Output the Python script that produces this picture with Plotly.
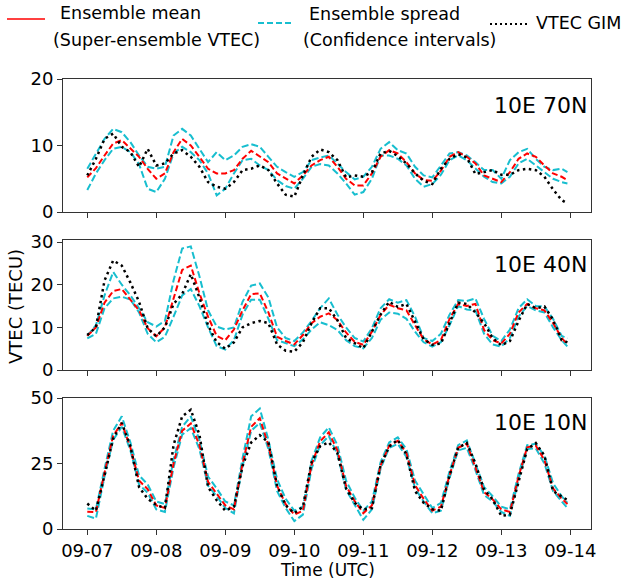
import plotly.graph_objects as go
from plotly.subplots import make_subplots
from datetime import datetime, timedelta

# ---------------- data ----------------
START = datetime(2017, 9, 7)
HOURS = list(range(0, 168, 3)) + [167]
TIMES = [START + timedelta(hours=h) for h in HOURS]

PANEL_LABELS = ["10E 70N", "10E 40N", "10E 10N"]
Y_TICKS = [[0, 10, 20], [0, 10, 20, 30], [0, 25, 50]]
Y_RANGES = [[0, 20], [0, 30.5], [0, 50]]
X_TICK_DATES = ["09-07", "09-08", "09-09", "09-10", "09-11", "09-12", "09-13", "09-14"]

# 10E 70N
P1_MEAN = [5.2, 6.6, 8.5, 10.3, 10.8, 9.5, 8.3, 6.5, 5.0, 5.8, 9.0, 11.0, 10.0, 8.3, 6.5, 5.8, 5.8, 6.3, 8.0, 9.2,
           8.3, 7.5, 5.8, 5.0, 4.3, 5.5, 7.0, 7.8, 8.3, 6.8, 5.0, 4.0, 4.0, 5.8, 8.3, 9.3, 8.8, 7.5, 5.8, 4.8,
           4.7, 6.2, 8.3, 9.0, 8.3, 7.3, 5.5, 5.0, 4.5, 6.0, 8.0, 8.8, 8.3, 7.0, 5.8, 5.3, 4.8]
P1_UPPER = [6.5, 8.7, 11.0, 12.5, 12.0, 10.5, 8.5, 6.8, 6.5, 6.8, 11.5, 12.5, 11.5, 9.5, 7.5, 9.0, 7.8, 8.5, 9.8, 10.2,
            9.8, 8.3, 6.8, 6.0, 5.3, 6.0, 7.8, 8.2, 8.5, 7.3, 6.0, 4.9, 5.3, 6.8, 9.5, 10.5, 9.3, 8.8, 6.8, 5.5,
            5.2, 7.0, 8.8, 9.0, 8.5, 7.5, 6.3, 6.3, 5.0, 7.8, 9.0, 9.5, 8.0, 6.8, 6.3, 6.5, 6.0]
P1_LOWER = [3.3, 5.8, 7.8, 9.5, 9.8, 9.0, 7.2, 3.5, 3.0, 5.0, 8.8, 9.8, 9.0, 7.8, 5.8, 2.5, 3.5, 5.8, 7.8, 8.0,
            7.0, 6.3, 4.8, 3.9, 3.5, 5.0, 6.8, 7.2, 7.0, 5.8, 4.3, 2.6, 3.0, 5.0, 8.5, 8.5, 8.0, 7.0, 5.0, 3.8,
            4.2, 5.6, 7.8, 8.5, 7.8, 6.5, 5.3, 4.5, 4.3, 5.3, 7.3, 8.0, 7.0, 6.0, 5.0, 4.5, 4.3]
P1_GIM = [5.5, 8.0, 11.0, 11.8, 9.8, 9.0, 6.8, 9.5, 7.0, 7.3, 8.8, 9.3, 8.3, 6.8, 4.5, 3.8, 3.5, 4.5, 6.3, 6.5,
          7.0, 6.3, 4.3, 2.6, 2.3, 5.5, 8.3, 9.4, 9.0, 7.8, 5.2, 5.5, 5.3, 6.0, 8.8, 9.2, 8.4, 7.3, 5.8, 4.7,
          4.2, 6.5, 8.0, 8.7, 8.2, 5.7, 6.0, 6.3, 5.6, 5.6, 6.3, 6.5, 6.3, 5.3, 3.4, 1.8, 1.3]

# 10E 40N
P2_MEAN = [8.0, 10.0, 15.8, 18.5, 19.0, 16.6, 14.0, 9.8, 7.9, 10.0, 16.5, 23.5, 24.5, 18.0, 12.5, 8.0, 7.0, 9.5, 14.0, 17.8,
           18.0, 13.5, 7.8, 6.8, 6.0, 8.2, 11.0, 12.5, 13.3, 11.7, 8.8, 6.6, 5.9, 9.0, 12.9, 15.3, 14.5, 14.0, 10.5, 7.2,
           6.0, 7.0, 12.0, 15.5, 15.0, 15.5, 9.4, 7.0, 6.2, 8.5, 13.5, 15.5, 14.5, 14.0, 11.0, 7.5, 6.0]
P2_UPPER = [8.0, 10.5, 17.5, 23.0, 20.0, 17.5, 14.5, 11.2, 10.2, 11.5, 21.0, 28.5, 29.0, 22.0, 14.0, 10.2, 9.5, 10.0, 16.0, 19.8,
            20.3, 17.0, 10.0, 7.5, 6.8, 8.8, 11.5, 14.5, 16.8, 13.0, 10.0, 7.5, 6.7, 9.8, 14.5, 16.6, 15.8, 16.4, 12.5, 7.5,
            6.8, 8.5, 13.0, 16.4, 16.2, 16.8, 12.0, 8.0, 6.8, 9.5, 14.5, 16.6, 15.0, 14.9, 12.0, 8.0, 7.4]
P2_LOWER = [7.4, 8.5, 14.5, 16.8, 17.2, 16.5, 13.5, 8.5, 6.5, 7.8, 12.5, 17.5, 19.0, 15.0, 10.0, 5.6, 4.8, 7.0, 13.0, 16.5,
            16.5, 12.0, 7.0, 6.3, 5.6, 7.2, 9.5, 11.2, 10.5, 9.4, 7.0, 5.6, 5.1, 7.5, 11.8, 13.5, 13.2, 12.0, 9.0, 6.5,
            5.5, 6.5, 10.5, 15.0, 14.2, 14.0, 8.5, 6.0, 5.5, 7.5, 12.5, 15.0, 14.0, 13.5, 10.0, 7.0, 5.5]
P2_GIM = [8.2, 10.0, 21.0, 25.7, 24.5, 20.5, 16.0, 9.8, 7.9, 10.0, 15.5, 17.8, 22.5, 17.0, 10.5, 6.5, 5.0, 6.5, 10.0, 11.0,
          11.5, 11.0, 6.0, 4.5, 4.3, 6.5, 11.0, 14.5, 14.5, 11.7, 7.5, 6.3, 5.1, 9.0, 13.0, 16.0, 14.8, 15.5, 11.5, 7.2,
          5.9, 6.2, 11.0, 15.8, 15.5, 13.5, 11.0, 7.5, 5.8, 6.8, 11.5, 15.5, 14.5, 14.9, 11.8, 7.0, 6.5]

# 10E 10N
P3_MEAN = [6.6, 6.5, 21.5, 35.6, 40.5, 31.0, 18.5, 15.2, 9.0, 8.0, 25.0, 37.5, 40.3, 32.0, 18.0, 13.5, 9.0, 7.5, 25.0, 39.0,
           42.3, 32.0, 16.5, 9.5, 5.5, 7.0, 24.5, 33.5, 36.9, 30.0, 16.5, 10.7, 6.0, 9.0, 24.2, 31.8, 33.7, 29.0, 16.7, 11.5,
           7.0, 8.5, 20.5, 31.0, 32.6, 23.5, 14.1, 11.3, 7.5, 6.5, 20.0, 31.2, 31.8, 26.3, 15.5, 11.6, 9.5]
P3_UPPER = [7.8, 7.5, 23.0, 37.5, 43.0, 33.0, 20.5, 17.0, 10.5, 9.5, 26.5, 39.0, 43.0, 34.0, 20.0, 15.5, 10.5, 9.0, 27.0, 43.0,
            46.0, 34.0, 19.0, 11.5, 7.0, 8.5, 26.0, 35.0, 38.8, 32.0, 18.5, 12.0, 7.0, 10.5, 25.5, 33.0, 35.0, 30.5, 18.5, 13.0,
            8.0, 10.0, 22.0, 32.0, 33.8, 25.0, 16.0, 12.5, 8.5, 7.5, 21.0, 32.0, 32.5, 28.0, 17.5, 12.5, 10.0]
P3_LOWER = [5.0, 4.0, 20.0, 34.0, 39.0, 30.0, 17.0, 13.8, 7.5, 6.5, 23.5, 36.0, 38.5, 30.5, 16.5, 12.5, 8.0, 6.0, 24.0, 37.5,
            40.5, 30.5, 14.5, 8.0, 3.0, 5.5, 23.0, 32.0, 35.5, 28.5, 15.0, 9.5, 3.5, 7.5, 23.0, 31.0, 32.5, 27.5, 15.5, 10.5,
            6.0, 7.0, 19.5, 30.0, 31.0, 22.5, 13.0, 10.5, 6.5, 5.0, 19.0, 30.5, 30.8, 25.0, 14.5, 10.5, 8.0]
P3_GIM = [9.7, 7.0, 20.5, 34.5, 40.5, 31.5, 16.0, 11.5, 9.2, 8.0, 32.0, 43.0, 45.5, 36.0, 16.0, 11.0, 7.0, 8.5, 24.0, 33.0,
          35.8, 33.1, 16.5, 9.0, 6.0, 8.5, 25.5, 31.6, 33.1, 29.0, 15.5, 10.0, 7.5, 8.0, 24.2, 31.5, 34.0, 28.5, 14.5, 10.0,
          7.5, 7.0, 20.5, 31.0, 32.8, 25.0, 15.0, 11.3, 5.0, 5.5, 18.0, 30.5, 32.8, 28.0, 14.5, 12.5, 11.0]

PANELS = [
    (P1_MEAN, P1_UPPER, P1_LOWER, P1_GIM),
    (P2_MEAN, P2_UPPER, P2_LOWER, P2_GIM),
    (P3_MEAN, P3_UPPER, P3_LOWER, P3_GIM),
]

# ---------------- styling ----------------
FONT = "DejaVu Sans, Verdana, sans-serif"
RED = "#ff0000"
CYAN = "#17becf"
BLACK = "#000000"
AXCOL = "#333333"

W, H = 628, 580
L, R, T, B = 63, 591, 79, 529  # plot-area pixel box


def px(x):
    return (x - L) / (R - L)


def py(y):
    return (B - y) / (B - T)


fig = make_subplots(rows=3, cols=1, shared_xaxes=True, vertical_spacing=0.05)

for i, (mean, upper, lower, gim) in enumerate(PANELS, start=1):
    fig.add_trace(go.Scatter(x=TIMES, y=lower, mode="lines", name="Ensemble spread",
                             line=dict(color=CYAN, width=2, dash="7px,3px"), showlegend=False), row=i, col=1)
    fig.add_trace(go.Scatter(x=TIMES, y=upper, mode="lines", name="Ensemble spread",
                             line=dict(color=CYAN, width=2, dash="7px,3px"), showlegend=False), row=i, col=1)
    fig.add_trace(go.Scatter(x=TIMES, y=mean, mode="lines", name="Ensemble mean",
                             line=dict(color=RED, width=2, dash="6px,3px"), showlegend=False), row=i, col=1)
    fig.add_trace(go.Scatter(x=TIMES, y=gim, mode="lines", name="VTEC GIM",
                             line=dict(color=BLACK, width=2.5, dash="2.5px,3.5px"), showlegend=False), row=i, col=1)

# panel domains (pixels -> paper)
domains = [(py(212), 1.0), (py(370), py(240)), (0.0, py(398))]
x_range = [START - timedelta(hours=8.45), START + timedelta(days=7, hours=7.2)]

for i in range(1, 4):
    fig.update_xaxes(
        row=i, col=1, type="date", range=x_range,
        tickmode="array",
        tickvals=[START + timedelta(days=d) for d in range(len(X_TICK_DATES))],
        ticktext=X_TICK_DATES,
        ticks="outside", ticklen=5, tickwidth=1, tickcolor=AXCOL,
        showline=True, linecolor=AXCOL, linewidth=1, mirror=True,
        showgrid=False, zeroline=False,
        tickfont=dict(family=FONT, size=18, color="black"),
        showticklabels=(i == 3),
    )
    fig.update_yaxes(
        row=i, col=1, range=Y_RANGES[i - 1], tickvals=Y_TICKS[i - 1],
        domain=list(domains[i - 1]),
        ticks="outside", ticklen=5, tickwidth=1, tickcolor=AXCOL,
        showline=True, linecolor=AXCOL, linewidth=1, mirror=True,
        showgrid=False, zeroline=False,
        tickfont=dict(family=FONT, size=18, color="black"),
    )

annotations = []
# panel labels
for lab, yc in zip(PANEL_LABELS, [105, 264, 422]):
    annotations.append(dict(text=lab, xref="paper", yref="paper", x=px(589), y=py(yc),
                            xanchor="right", yanchor="middle", showarrow=False,
                            font=dict(family=FONT, size=22, color="black")))
# axis titles
annotations.append(dict(text="VTEC (TECU)", xref="paper", yref="paper", x=px(15), y=py(307),
                        xanchor="center", yanchor="middle", textangle=-90, showarrow=False,
                        font=dict(family=FONT, size=18, color="black")))
annotations.append(dict(text="Time (UTC)", xref="paper", yref="paper", x=px(327), y=py(570),
                        xanchor="center", yanchor="middle", showarrow=False, borderpad=0,
                        font=dict(family=FONT, size=17, color="black")))
# legend texts
leg_font = dict(family=FONT, size=17.5, color="black")
for txt, xl, yc in [("Ensemble mean", 58, 13), ("(Super-ensemble VTEC)", 51, 40),
                    ("Ensemble spread", 307, 14), ("(Confidence intervals)", 301, 40),
                    ("VTEC GIM", 534, 23)]:
    annotations.append(dict(text=txt, xref="paper", yref="paper", x=px(xl), y=py(yc),
                            xanchor="left", yanchor="middle", showarrow=False, font=leg_font))

shapes = [
    dict(type="line", xref="paper", yref="paper", x0=px(7), x1=px(45), y0=py(19), y1=py(19),
         line=dict(color=RED, width=1.5)),
    dict(type="line", xref="paper", yref="paper", x0=px(258), x1=px(293), y0=py(23), y1=py(23),
         line=dict(color=CYAN, width=2, dash="6px,3px")),
    dict(type="line", xref="paper", yref="paper", x0=px(490), x1=px(527), y0=py(24), y1=py(24),
         line=dict(color=BLACK, width=2, dash="2px,3px")),
]

fig.update_layout(
    width=W, height=H,
    margin=dict(l=L, r=W - R, t=T, b=H - B, pad=0),
    paper_bgcolor="white", plot_bgcolor="white",
    showlegend=False,
    annotations=annotations,
    shapes=shapes,
    font=dict(family=FONT, size=18, color="black"),
)

fig.write_html("out.html", config={"displayModeBar": False},
               post_script="document.body.style.margin='0';document.body.style.padding='0';")
